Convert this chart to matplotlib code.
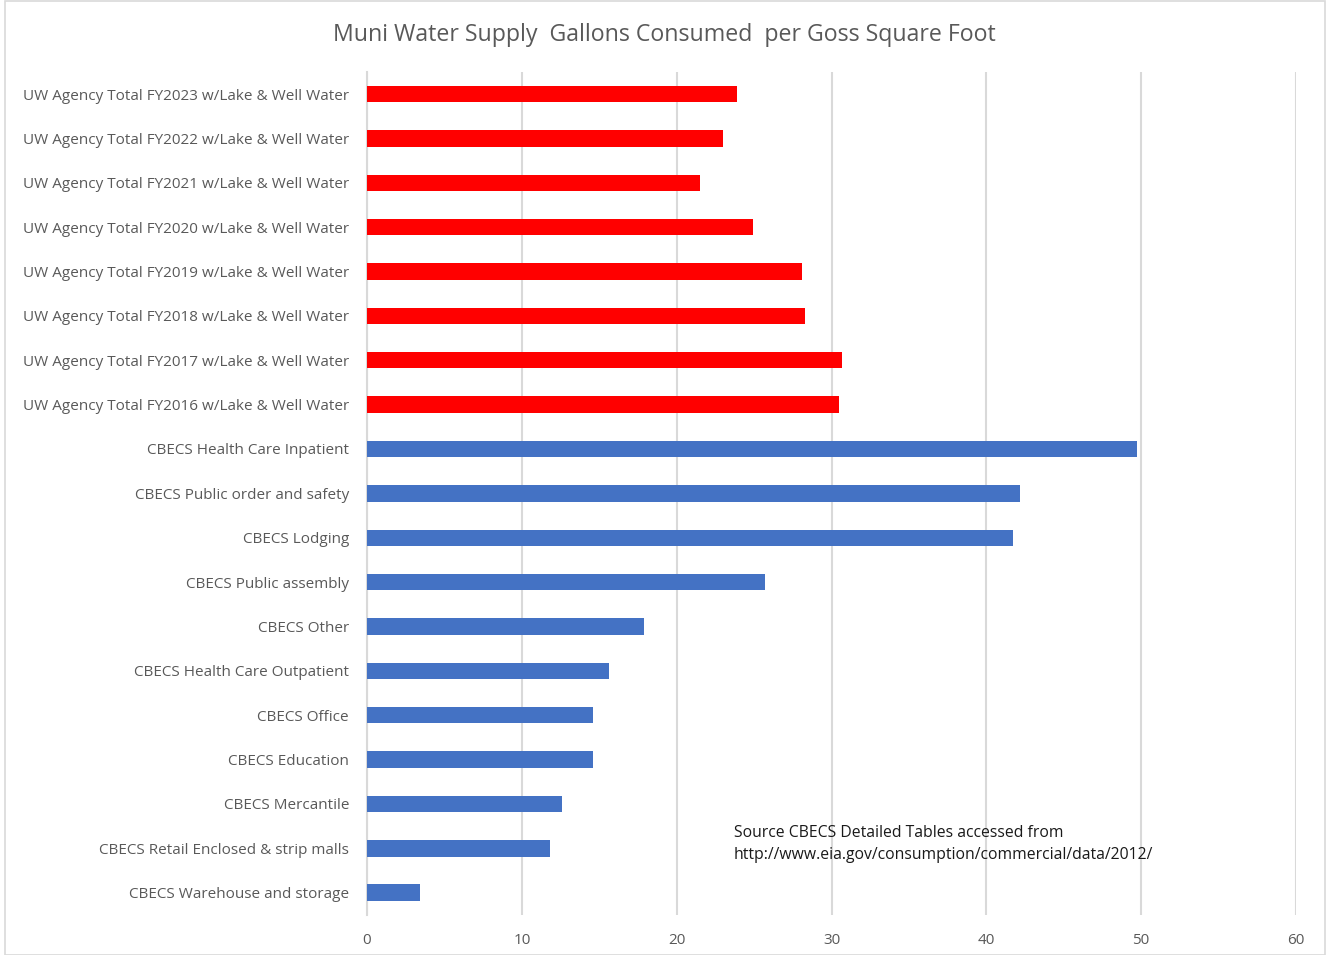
import matplotlib.pyplot as plt
from matplotlib.patches import Rectangle

# categories top to bottom
uw_labels = ["UW Agency Total FY2023 w/Lake & Well Water",
             "UW Agency Total FY2022 w/Lake & Well Water",
             "UW Agency Total FY2021 w/Lake & Well Water",
             "UW Agency Total FY2020 w/Lake & Well Water",
             "UW Agency Total FY2019 w/Lake & Well Water",
             "UW Agency Total FY2018 w/Lake & Well Water",
             "UW Agency Total FY2017 w/Lake & Well Water",
             "UW Agency Total FY2016 w/Lake & Well Water"]
uw_values = [23.9, 23.0, 21.5, 24.9, 28.1, 28.3, 30.7, 30.5]

cbecs_labels = ["CBECS Health Care Inpatient",
                "CBECS Public order and safety",
                "CBECS Lodging",
                "CBECS Public assembly",
                "CBECS Other",
                "CBECS Health Care Outpatient",
                "CBECS Office",
                "CBECS Education",
                "CBECS Mercantile",
                "CBECS Retail Enclosed & strip malls",
                "CBECS Warehouse and storage"]
cbecs_values = [49.7, 42.2, 41.7, 25.7, 17.9, 15.6, 14.6, 14.6, 12.6, 11.8, 3.4]

x_ticks = [0, 10, 20, 30, 40, 50, 60]

title = "Muni Water Supply  Gallons Consumed  per Goss Square Foot"
note = ("Source CBECS Detailed Tables accessed from\n"
        "http://www.eia.gov/consumption/commercial/data/2012/")

plt.rcParams['font.family'] = ['Open Sans', 'DejaVu Sans']

labels = uw_labels + cbecs_labels
values = uw_values + cbecs_values
colors = ['#FF0000'] * len(uw_values) + ['#4472C4'] * len(cbecs_values)
pos = list(range(len(labels)))

fig = plt.figure(figsize=(13.28, 9.55), dpi=100)
ax = fig.add_axes([0.2764, 0.0420, 0.6995, 0.8828])

ax.barh(pos, values, height=0.37, color=colors, zorder=3)
ax.set_ylim(len(labels) - 0.5, -0.5)
ax.set_xlim(0, 60)
ax.set_xticks(x_ticks)
ax.set_yticks(pos)
ax.set_yticklabels(labels)
ax.tick_params(axis='both', length=0, colors='#595959', labelsize=11)
ax.tick_params(axis='y', pad=13)
ax.tick_params(axis='x', pad=13)
ax.grid(axis='x', color='#d9d9d9', linewidth=1.5, zorder=0)
for s in ['top', 'right', 'bottom']:
    ax.spines[s].set_visible(False)
ax.spines['left'].set_color('#d9d9d9')
ax.spines['left'].set_linewidth(1.5)

fig.text(0.5, 0.963, title, ha='center', va='center', fontsize=16.7, color='#595959')
fig.text(0.5527, 0.136, note, ha='left', va='top', fontsize=11.3, color='#1a1a1a',
         linespacing=1.5)

fig.patches.append(Rectangle((0.004, 0.0), 0.994, 0.999, transform=fig.transFigure,
                             fill=False, edgecolor='#d9d9d9', linewidth=1.2))

fig.savefig('out.png', dpi=100)
